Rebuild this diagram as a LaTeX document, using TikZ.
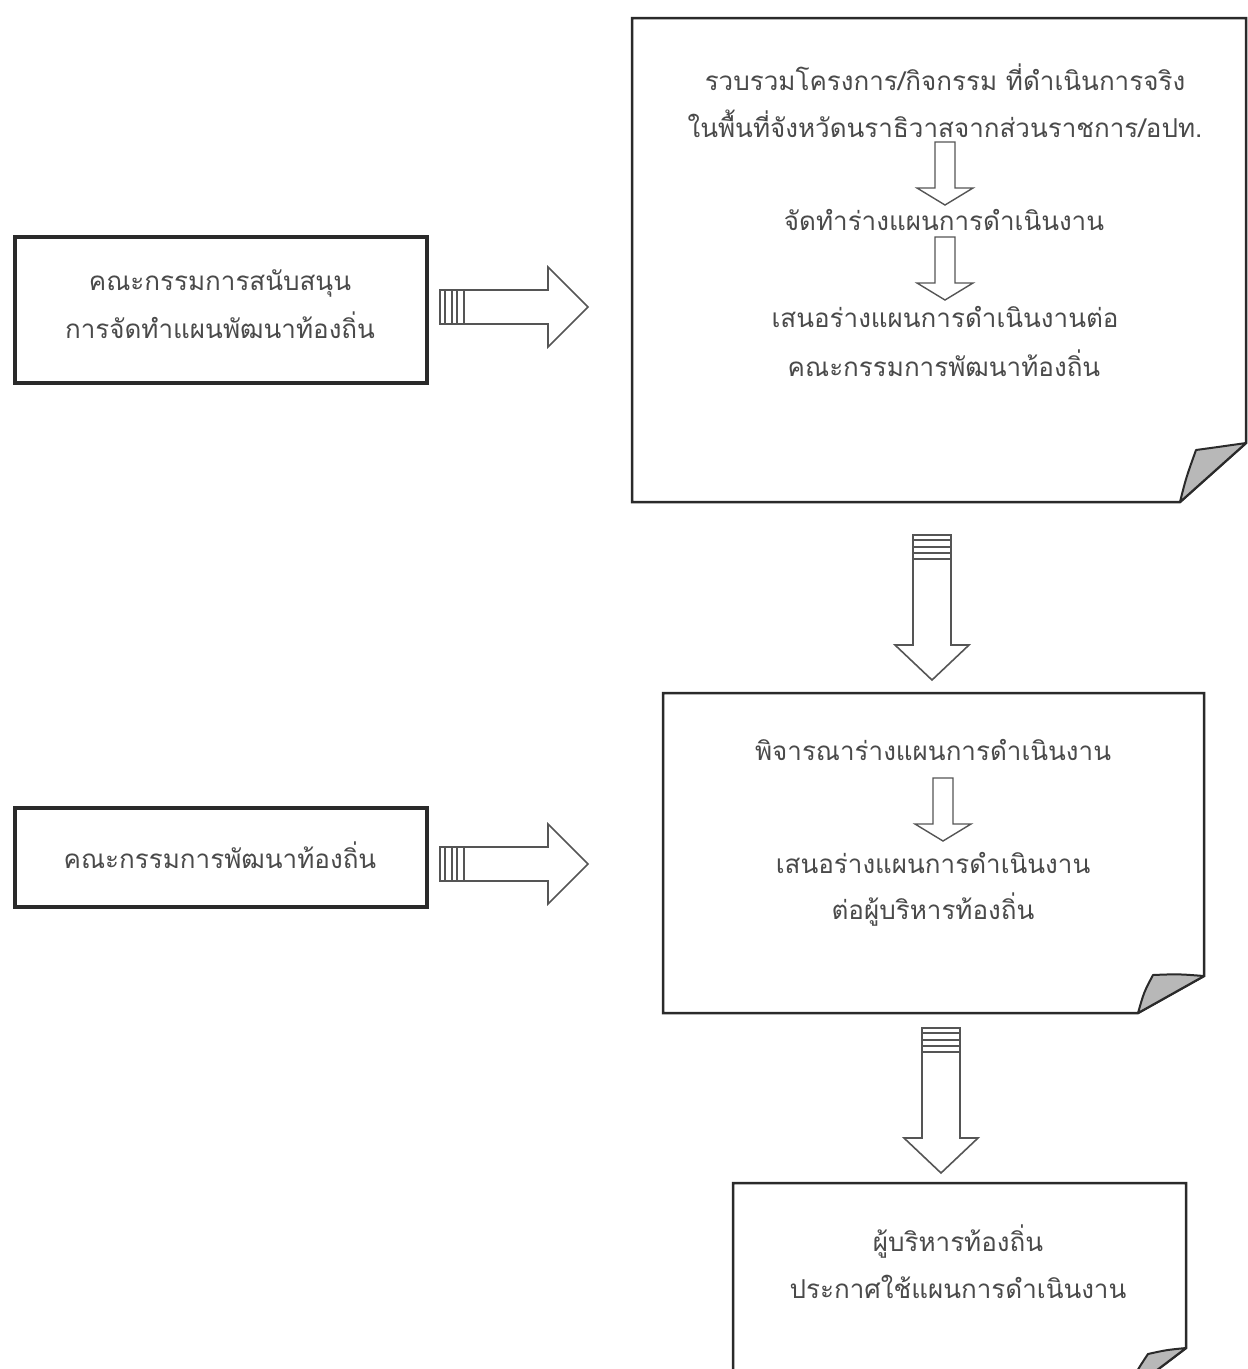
\documentclass[tikz,border=0pt]{standalone}
\usepackage{fontspec}
\newfontfamily\thaifont[Script=Thai]{Loma}
\usetikzlibrary{calc}
\definecolor{txtgray}{HTML}{4A4A4A}
\definecolor{linedark}{HTML}{2A2A2A}
\definecolor{arrowgray}{HTML}{555555}
\definecolor{flapgray}{HTML}{B8B8B8}
\begin{document}
\begin{tikzpicture}[x=1pt,y=-1pt,
  txt/.style={font=\thaifont\fontsize{26}{32}\selectfont, text=txtgray, inner sep=0pt, anchor=center},
  plainbox/.style={draw=linedark, line width=4pt, fill=white, inner sep=0pt},
  paper/.style={draw=linedark, line width=2.5pt, fill=white, line join=miter},
  flap/.style={draw=linedark, line width=2pt, fill=flapgray, line join=round},
  blk/.style={draw=arrowgray, line width=1.6pt, fill=white, line join=miter},
  stripe/.style={draw=arrowgray, line width=1.4pt},
  harrow/.pic={
    \draw[blk] (0,-17) -- (108,-17) -- (108,-40) -- (148,0) -- (108,40) -- (108,17) -- (0,17) -- cycle;
    \foreach \s in {5,12,17,24} \draw[stripe] (\s,-17) -- (\s,17);
  },
  varrow/.pic={
    \draw[blk] (-19,0) -- (-19,110) -- (-37,110) -- (0,145) -- (37,110) -- (19,110) -- (19,0) -- cycle;
    \foreach \s in {5,12,18,24} \draw[stripe] (-19,\s) -- (19,\s);
  },
  sarrow/.pic={
    \draw[blk, line width=1.4pt] (-10,0) -- (-10,46) -- (-28,46) -- (0,63) -- (28,46) -- (10,46) -- (10,0) -- cycle;
  }
]
\useasboundingbox[fill=white] (0,0) rectangle (1248,1369);
\clip (0,0) rectangle (1248,1369);

% ---------- left boxes ----------
\node[plainbox, minimum width=412pt, minimum height=146pt] (a) at (221,310) {};
\node[txt] (a1) at (220,283) {คณะกรรมการสนับสนุน};
\node[txt] (a2) at (220,325) {การจัดทำแผนพัฒนาท้องถิ่น};

\node[plainbox, minimum width=412pt, minimum height=99pt] (d) at (221,857) {};
\node[txt] (d1) at (220,855) {คณะกรรมการพัฒนาท้องถิ่น};

% ---------- paper B ----------
\draw[paper] (632,18) -- (1246,18) -- (1246,443) -- (1180,502) -- (632,502) -- cycle;
\draw[flap] (1246,443) -- (1180,502) .. controls (1186,478) .. (1196,450) .. controls (1218,447) .. (1246,443) -- cycle;
\node[minimum width=614pt, minimum height=484pt, inner sep=0pt] (b) at (939,260) {};
\node[txt] (b1) at (945,77) {รวบรวมโครงการ/กิจกรรม ที่ดำเนินการจริง};
\node[txt] (b2) at (945,124) {ในพื้นที่จังหวัดนราธิวาสจากส่วนราชการ/อปท.};
\pic at (945,142) {sarrow};
\node[txt] (b3) at (944,220) {จัดทำร่างแผนการดำเนินงาน};
\pic at (945,237) {sarrow};
\node[txt] (b4) at (945,317) {เสนอร่างแผนการดำเนินงานต่อ};
\node[txt] (b5) at (944,363) {คณะกรรมการพัฒนาท้องถิ่น};

% ---------- paper C ----------
\draw[paper] (663,693) -- (1204,693) -- (1204,976) -- (1138,1013) -- (663,1013) -- cycle;
\draw[flap] (1204,976) -- (1138,1013) .. controls (1144,992) .. (1153,975) .. controls (1178,974) .. (1204,976) -- cycle;
\node[minimum width=541pt, minimum height=320pt, inner sep=0pt] (c) at (933,853) {};
\node[txt] (c1) at (933,750) {พิจารณาร่างแผนการดำเนินงาน};
\pic at (943,778) {sarrow};
\node[txt] (c2) at (933,863) {เสนอร่างแผนการดำเนินงาน};
\node[txt] (c3) at (933,910) {ต่อผู้บริหารท้องถิ่น};

% ---------- paper E ----------
\draw[paper] (733,1183) -- (1186,1183) -- (1186,1348) -- (1128,1392) -- (733,1392) -- cycle;
\draw[flap] (1186,1348) -- (1128,1392) .. controls (1136,1372) .. (1148,1354) .. controls (1166,1350) .. (1186,1348) -- cycle;
\node[minimum width=453pt, minimum height=186pt, inner sep=0pt] (e) at (960,1276) {};
\node[txt] (e1) at (958,1242) {ผู้บริหารท้องถิ่น};
\node[txt] (e2) at (958,1287) {ประกาศใช้แผนการดำเนินงาน};

% ---------- block arrows ----------
\pic at (440,307) {harrow};
\pic at (440,864) {harrow};
\pic at (932,535) {varrow};
\pic at (941,1028) {varrow};
\end{tikzpicture}
\end{document}
